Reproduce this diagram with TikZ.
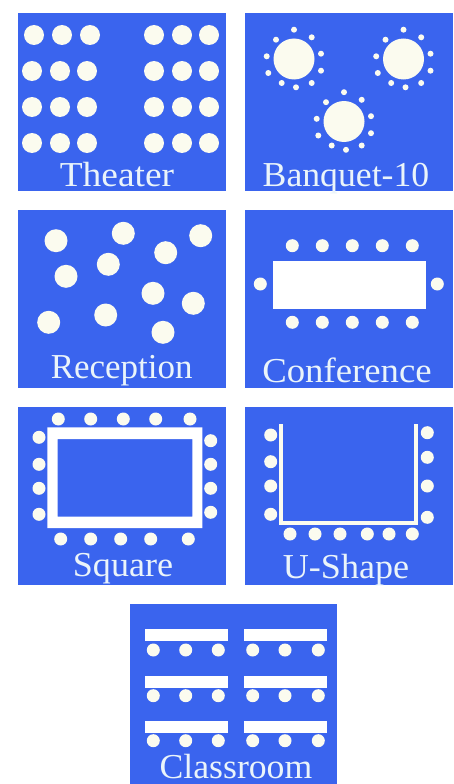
\documentclass[tikz,border=0pt]{standalone}
\usepackage{fontspec}
\setmainfont{Liberation Serif}
\definecolor{roomblue}{HTML}{3A64EE}
\definecolor{seatc}{HTML}{FBFBEF}
\definecolor{labelc}{HTML}{EAF4FA}
\tikzset{
  panel/.style={fill=roomblue,draw=none},
  solid white/.style={fill=seatc,draw=none},
  roomlabel/.style={anchor=base,inner sep=0pt,text=labelc,font=\fontsize{35}{35}\selectfont}
}
\newcommand{\panelrect}[2]{\fill[panel] (#1,#2) rectangle ++(208,178);}
\begin{document}
\begin{tikzpicture}[x=1pt,y=-1pt]
\useasboundingbox (0,0) rectangle (453,784);
% panels
\panelrect{17.5}{13}
\panelrect{244.5}{13}
\panelrect{17.5}{210}
\panelrect{244.5}{210}
\panelrect{17.5}{407}
\panelrect{244.5}{407}
\fill[panel] (130,604) rectangle (337,784);
% Theater
\foreach \x/\y in {34/35,62/35,90/35,32/71,60/71,87/71,32/107,60/107,87/107,32/143,60/143,87/143}
  \fill[solid white] (\x,\y) circle (10);
\foreach \x in {154,182,209} \foreach \y in {35,71,107,143}
  \fill[solid white] (\x,\y) circle (10);
% Banquet
\foreach \cx/\cy in {294/59,403.5/59,344/121.5}{
  \fill[solid white] (\cx,\cy) circle (20.5);
  \foreach \dx/\dy in {0/-29.3,17.7/-21.7,27/-5.3,27/11.7,17.7/24,2/28.3,-12.3/24,-25.7/14,-27.3/-2.7,-18/-19.3}
    \fill[solid white] ({\cx+\dx},{\cy+\dy}) circle (3);
}
% Reception
\foreach \x/\y in {56/240.7,123.3/233.3,200.7/235.7,165.7/252.7,108.3/264.3,66/276.3,153/293.3,193.3/303.3,105.7/315,48.7/322.3,163/332.3}
  \fill[solid white] (\x,\y) circle (11.5);
% Conference
\fill[white] (272.7,261) rectangle (426,309);
\foreach \x in {292.3,322.3,352.3,382.3,412.3}{
  \fill[solid white] (\x,245.7) circle (6.5);
  \fill[solid white] (\x,322.3) circle (6.5);
}
\fill[solid white] (260.3,284) circle (6.5);
\fill[solid white] (437.3,284) circle (6.5);
% Square
\fill[white,even odd rule] (47.3,427.3) rectangle (202.3,528) (57.7,439) rectangle (192.3,516.7);
\foreach \x in {58.3,90.7,123.3,155.7,190} \fill[solid white] (\x,419) circle (6.5);
\foreach \x in {60.7,90.7,120.7,150.7,188.3} \fill[solid white] (\x,539) circle (6.5);
\foreach \y in {437.3,464.3,488.3,514.3} \fill[solid white] (39,\y) circle (6.5);
\foreach \y in {440.7,464.3,488.3,512.3} \fill[solid white] (210.7,\y) circle (6.5);
% U-Shape
\fill[seatc] (279.3,424) rectangle (283.3,525);
\fill[seatc] (414.3,424) rectangle (418.3,525);
\fill[seatc] (279.3,520.7) rectangle (418.3,525);
\foreach \y in {435,461.7,486,514.3} \fill[solid white] (270.7,\y) circle (6.5);
\foreach \y in {432.7,457.3,486,517.3} \fill[solid white] (427.3,\y) circle (6.5);
\foreach \x in {290,315,340,367.3,389,412.3} \fill[solid white] (\x,534) circle (6.5);
% Classroom
\foreach \y/\s in {629.3/650,675.7/695.7,721/740.7}{
  \foreach \x in {145,244.3} \fill[white] (\x,\y) rectangle ++(83,12);
  \foreach \x in {153.3,185.7,218.3,252.7,285,318.3} \fill[solid white] (\x,\s) circle (6.5);
}
% labels
\node[roomlabel] (theater) at (117,186) {\scalebox{1.07}[1]{Theater}};
\node[roomlabel] (banquet) at (346,186) {\scalebox{1.02}[1]{Banquet-10}};
\node[roomlabel] (reception) at (121.7,378) {Reception};
\node[roomlabel] (conference) at (347,382.7) {\scalebox{1.05}[1]{Conference}};
\node[roomlabel] (square) at (123,576) {\scalebox{1.03}[1]{Square}};
\node[roomlabel] (ushape) at (346,578) {\scalebox{1.03}[1]{U-Shape}};
\node[roomlabel] (classroom) at (236,778) {\scalebox{1.02}[1]{Classroom}};
\end{tikzpicture}
\end{document}
